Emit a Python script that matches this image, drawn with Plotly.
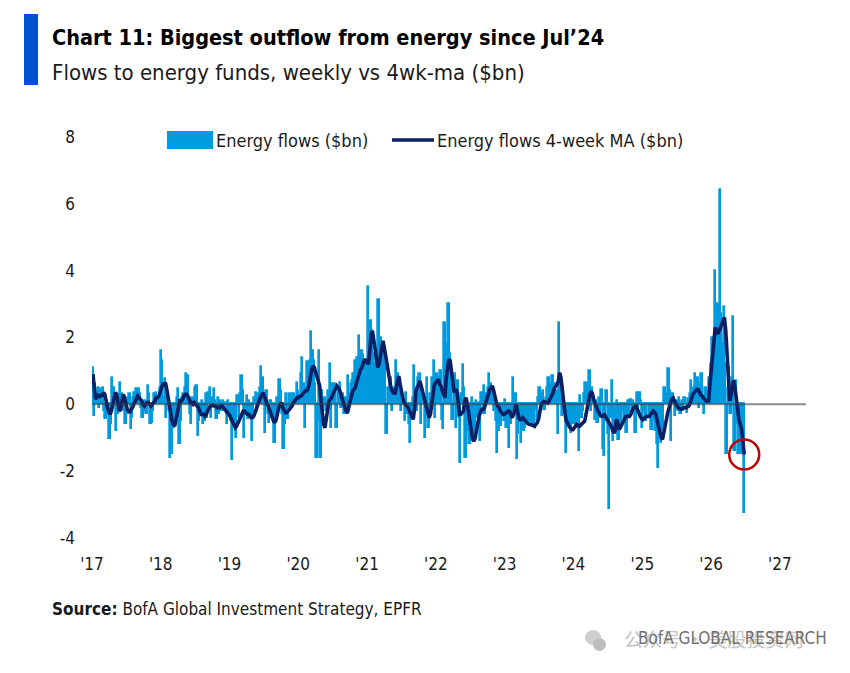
import pandas as pd
import plotly.graph_objects as go

# weekly flows to energy funds ($bn), first week Jan-2017
flows = [
    1.1, -0.35, 0.6, 0.3, 0.5, -0.1, 0.45, 0.2, 0.5, -0.2,
    -0.45, 0.1, -0.3, -1.05, -0.6, 0.8, 0.5, 0.1, -0.8, -0.3,
    0.2, 0.65, 0.3, 0.1, -0.2, -0.6, -0.3, 0.2, 0.3, -0.75,
    -0.4, 0.2, 0.35, 0.45, 0.2, 0.45, 0.3, -0.1, -0.4, -0.2,
    0.1, -0.3, 0.55, 0.3, -0.6, -0.55, -0.2, 0.3, 0.35, 0.2,
    0.1, 0.5, 1.6, 1.3, 0.2, 0.75, -0.4, 0.3, -0.2, -1.6,
    -1.5, -0.7, -0.7, -0.4, 0.2, 0.45, -1.2, -0.5, 0.2, 0.3,
    0.5, 0.9, 0.85, 0.2, -0.3, -0.6, 0.2, 0.1, 0.5, 0.55,
    -0.95, -0.5, -0.3, 0.1, -0.6, -0.5, 0.3, -0.4, 0.34, 0.5,
    -0.4, 0.2, 0.45, 0.1, -0.45, 0.2, -0.3, 0.1, -0.2, 0.1,
    -0.2, 0.05, -0.6, 0.1, -0.3, -0.5, -1.68, -0.6, -0.3, -1.0,
    0.24, -0.4, 0.3, 0.86, 0.4, -1.0, -0.3, 0.26, -0.45, 0.1,
    -0.3, -1.1, -0.4, 0.2, 0.34, -0.2, 0.3, 0.5, 1.12, 0.8,
    0.3, -0.85, 0.41, -0.3, -0.55, 0.1, -0.4, -0.2, -1.15, -0.5,
    0.2, -0.1, 0.72, 0.4, -0.3, -1.35, -0.6, 0.3, -0.45, 0.3,
    -0.2, 0.3, 0.1, 0.3, 0.2, 0.64, 0.4, 0.2, 0.9, 1.4,
    0.6, -0.7, 0.5, 1.26, 0.8, 1.3, 2.16, 1.6, 1.3, 0.6,
    -1.6, -0.5, 1.6, -1.6, 0.4, -0.3, 0.19, -0.2, 0.1, 0.4,
    1.22, -0.7, 0.6, 0.3, 0.6, -0.7, 0.4, 0.5, 0.64, -0.1,
    0.3, -0.3, 0.2, -0.3, 0.86, 0.3, 0.6, 0.7, 0.9, 1.29,
    0.8, 1.4, 2.04, 1.1, 1.6, 1.49, 0.9, 1.3, 1.0, 3.5,
    2.0, 2.5, 2.19, 1.5, 1.2, 1.6, 1.0, 3.13, 1.9, 2.0,
    1.6, 1.0, 1.6, -0.9, 0.5, 0.3, 0.8, -0.2, 0.5, 0.2,
    1.29, 0.6, 0.9, 0.6, -0.2, 0.3, 0.1, -0.5, 0.34, -0.3,
    -0.6, -1.16, -0.4, 0.2, 1.14, 0.5, -0.2, 0.8, 0.9, -0.6,
    0.4, 0.2, -1.0, -0.2, 0.8, -0.7, 0.3, -0.3, 0.8, 1.29,
    -0.4, 0.9, 0.8, 0.4, 1.0, -0.46, -0.75, 2.44, 1.2, 1.8,
    3.0, 1.5, 1.29, -0.46, 0.6, 0.9, -0.7, 0.7, -0.4, -1.75,
    0.3, 1.19, 0.5, -1.6, -0.8, -0.3, -1.2, -0.6, 0.2, -0.9,
    -0.7, 0.1, -0.4, 0.05, -1.1, 0.34, -0.3, 0.54, -0.3, 0.3,
    0.5, 0.9, 0.6, 0.3, 0.4, -0.2, -0.5, -1.46, -0.8, -0.3,
    -0.66, -0.2, -0.5, 0.14, -0.7, -0.3, -1.3, -0.6, -0.2, 0.8,
    -0.2, 0.3, -1.65, -0.9, -0.5, -1.16, -0.2, -0.8, -0.7, -0.3,
    -0.6, -0.25, -0.5, -0.66, -0.3, -0.6, -0.16, -0.5, 0.2, 0.5,
    0.1, 0.3, 0.4, -0.16, 0.2, 0.5, 0.8, 0.3, 0.6, 0.84,
    0.3, 0.6, 0.4, -0.9, 2.44, 0.5, -0.36, 0.2, -0.3, -1.46,
    -0.2, -0.6, -0.2, -0.86, -0.3, -0.6, -0.2, -0.7, -0.5, -1.4,
    0.24, -0.4, -0.2, 0.3, 0.64, 0.2, 0.6, 1.0, -0.2, 0.5,
    0.2, -0.46, 0.1, -0.56, 0.2, -0.3, 0.44, -1.35, -1.56, -0.5,
    0.4, -0.9, -3.12, -0.4, 0.7, -1.1, -0.6, -0.9, 0.1, -1.06,
    -0.3, -0.66, -0.2, -0.5, -0.3, -0.86, 0.1, -0.4, 0.14, -0.3,
    0.1, -0.2, -0.86, 0.34, -0.2, 0.34, 0.1, -0.7, -0.2, -0.5,
    -0.5, 0.0, -0.3, -0.1, -0.76, -0.2, -0.5, -0.8, -1.2, -1.9,
    -0.9, -1.15, -0.5, -0.8, 0.5, 0.2, 0.3, 1.07, 0.4, -1.09,
    0.3, 0.2, -0.36, 0.1, -0.2, 0.2, -0.3, 0.1, -0.2, 0.2,
    0.0, -0.25, 0.15, 0.3, 0.7, 0.2, 0.5, 0.9, 0.3, 0.8,
    -0.1, 0.6, 0.9, 0.2, -0.3, 0.5, 0.1, 0.4, 0.8, 1.2,
    2.0, 1.6, 4.0, 2.4, 3.0, 2.2, 6.4, 2.7, 1.8, 2.9,
    1.2, -1.5, 0.5, 1.1, -0.3, 0.8, 2.6, -1.4, 0.7, -0.6,
    -1.5, -0.9, -1.5, -1.2, -3.25,
]

# 4-week moving average ($bn)
flows_ma4 = [
    0.9, 0.5, 0.15, 0.25, 0.3, 0.2, 0.3, 0.25, 0.35, 0.3,
    0.0, -0.1, -0.2, -0.3, -0.2, 0.0, 0.2, 0.35, 0.3, 0.05,
    -0.2, -0.15, 0.1, 0.3, 0.2, -0.05, -0.15, -0.2, -0.25, -0.15,
    -0.1, 0.0, 0.1, 0.2, 0.25, 0.2, 0.15, 0.1, 0.0, -0.05,
    0.0, 0.05, 0.05, 0.0, -0.05, 0.0, 0.05, 0.1, 0.2, 0.2,
    0.25, 0.35, 0.5, 0.6, 0.6, 0.65, 0.45, 0.2, -0.1, -0.35,
    -0.5, -0.6, -0.65, -0.45, -0.2, 0.0, 0.15, 0.1, 0.15, 0.25,
    0.3, 0.3, 0.25, 0.15, 0.05, 0.05, 0.0, 0.05, 0.0, -0.05,
    -0.1, -0.2, -0.3, -0.3, -0.3, -0.35, -0.3, -0.2, -0.1, -0.05,
    -0.05, -0.03, -0.05, -0.05, -0.1, -0.1, -0.1, -0.05, -0.05, -0.1,
    -0.15, -0.2, -0.25, -0.3, -0.35, -0.45, -0.55, -0.65, -0.7, -0.65,
    -0.55, -0.45, -0.35, -0.25, -0.2, -0.2, -0.25, -0.3, -0.3, -0.35,
    -0.4, -0.4, -0.35, -0.25, -0.1, -0.05, 0.1, 0.2, 0.3, 0.35,
    0.25, 0.1, 0.0, -0.05, -0.2, -0.3, -0.4, -0.5, -0.55, -0.45,
    -0.25, -0.1, 0.0, 0.05, -0.1, -0.2, -0.25, -0.25, -0.2, -0.15,
    -0.1, -0.05, 0.05, 0.1, 0.15, 0.2, 0.2, 0.25, 0.25, 0.3,
    0.35, 0.4, 0.4, 0.45, 0.6, 0.85, 1.05, 1.15, 1.1, 0.95,
    0.8, 0.7, 0.55, 0.1, -0.3, -0.6, -0.7, -0.4, 0.0, 0.1,
    0.15, 0.2, 0.3, 0.4, 0.5, 0.55, 0.5, 0.45, 0.3, 0.15,
    0.05, -0.1, -0.2, -0.26, -0.1, 0.1, 0.3, 0.4, 0.45, 0.5,
    0.65, 0.8, 0.95, 1.05, 1.1, 1.25, 1.35, 1.3, 1.25, 1.2,
    1.6, 2.1, 2.2, 1.95, 1.7, 1.35, 1.1, 1.2, 1.4, 1.65,
    1.9, 1.7, 1.45, 1.3, 0.9, 0.65, 0.5, 0.4, 0.35, 0.3,
    0.5, 0.75, 0.85, 0.6, 0.35, 0.2, 0.05, 0.0, -0.05, -0.1,
    -0.2, -0.3, -0.4, -0.45, -0.1, 0.4, 0.5, 0.65, 0.7, 0.55,
    0.4, 0.25, 0.1, -0.1, -0.25, -0.4, -0.3, 0.0, 0.3, 0.6,
    0.65, 0.7, 0.75, 0.6, 0.55, 0.4, 0.3, 0.2, 0.8, 1.2,
    1.35, 1.3, 1.0, 0.7, 0.35, 0.45, 0.4, 0.1, -0.3, -0.3,
    -0.25, -0.2, 0.1, 0.2, 0.0, -0.3, -0.6, -0.95, -1.05, -1.1,
    -1.0, -0.75, -0.5, -0.35, -0.2, -0.15, -0.15, -0.1, 0.05, 0.2,
    0.35, 0.45, 0.5, 0.55, 0.4, 0.2, 0.05, -0.05, -0.1, -0.2,
    -0.25, -0.3, -0.3, -0.26, -0.25, -0.2, -0.21, -0.3, -0.4, -0.3,
    -0.15, 0.0, -0.2, -0.4, -0.46, -0.45, -0.4, -0.45, -0.5, -0.56,
    -0.58, -0.6, -0.6, -0.62, -0.64, -0.66, -0.6, -0.55, -0.45, -0.2,
    0.0, 0.05, 0.09, 0.07, 0.04, 0.04, 0.1, 0.18, 0.25, 0.35,
    0.49, 0.55, 0.59, 0.7, 0.95, 0.8, 0.4, 0.0, -0.25, -0.5,
    -0.55, -0.65, -0.72, -0.75, -0.76, -0.7, -0.62, -0.6, -0.63, -0.66,
    -0.62, -0.58, -0.55, -0.5, -0.3, -0.05, 0.15, 0.3, 0.39, 0.3,
    0.12, 0.0, -0.1, -0.2, -0.25, -0.35, -0.36, -0.33, -0.31, -0.38,
    -0.45, -0.5, -0.55, -0.65, -0.75, -0.85, -0.8, -0.45, -0.55, -0.75,
    -0.7, -0.62, -0.55, -0.45, -0.37, -0.36, -0.36, -0.36, -0.3, -0.15,
    -0.1, -0.08, -0.06, -0.15, -0.3, -0.35, -0.42, -0.46, -0.42, -0.38,
    -0.36, -0.36, -0.36, -0.3, -0.22, -0.2, -0.24, -0.3, -0.5, -0.7,
    -0.85, -1.0, -1.05, -0.85, -0.55, -0.45, -0.25, -0.1, 0.05, 0.15,
    0.19, 0.1, 0.04, -0.05, -0.1, -0.14, -0.15, -0.12, -0.1, -0.1,
    -0.1, -0.08, -0.05, 0.05, 0.2, 0.3, 0.35, 0.4, 0.44, 0.44,
    0.35, 0.29, 0.25, 0.18, 0.14, 0.1, 0.09, 0.1, 0.6, 1.1,
    1.6, 2.0, 2.3, 2.2, 2.1, 2.2, 2.3, 2.4, 2.55, 2.6,
    2.2, 1.4, 0.7, 0.1, 0.3, 0.6, 0.72, 0.5, 0.1, -0.2,
    -0.46, -0.6, -0.75, -1.1, -1.5,
]

first_week = "2017-01-06"
year_ticks = [f"{y}-01-01" for y in range(2017, 2028)]
year_labels = ["'17", "'18", "'19", "'20", "'21", "'22", "'23", "'24", "'25", "'26", "'27"]
y_ticks = [-4, -2, 0, 2, 4, 6, 8]
y_labels = ["-4", "-2", "0", "2", "4", "6", "8"]

BAR_BLUE = "#009ADE"
NAVY = "#0B1F65"
FONT = "DejaVu Sans Condensed, DejaVu Sans, sans-serif"

# the page body has an 8px margin, so the figure is 8px smaller than the window
# and all positions below are given in window pixels, shifted by OFF
OFF = 8
W, H = 850 - OFF, 673 - OFF
L, R, T, B = 92 - OFF, 44, 137 - OFF, 135


def px(x):
    return (x - OFF - L) / (W - L - R)


def py(y):
    return 1 - (y - OFF - T) / (H - T - B)


weeks = pd.date_range(first_week, periods=len(flows), freq="W-FRI")
ma_weeks = pd.date_range(first_week, periods=len(flows_ma4), freq="W-FRI")

fig = go.Figure()
fig.add_trace(go.Bar(x=weeks, y=flows,
                     marker=dict(color=BAR_BLUE, line=dict(color=BAR_BLUE, width=1.7)),
                     showlegend=False))
fig.add_trace(go.Scatter(x=ma_weeks, y=flows_ma4, mode="lines",
                         line=dict(color=NAVY, width=3.6), showlegend=False))

shapes = [
    # zero line, drawn over the bars
    dict(type="line", xref="paper", yref="y", x0=0, x1=1, y0=0, y1=0,
         line=dict(color="rgba(60,60,60,0.6)", width=2), layer="above"),
    # red ring round the latest 4wk-ma reading
    dict(type="circle", xref="x", yref="y", xsizemode="pixel", ysizemode="pixel",
         xanchor=ma_weeks[-1], yanchor=flows_ma4[-1], x0=-15, x1=15, y0=-15, y1=15,
         line=dict(color="#C00000", width=2.5)),
    # blue accent bar by the title
    dict(type="rect", xref="paper", yref="paper", x0=px(24), x1=px(38), y0=py(85), y1=py(14),
         fillcolor="#0052CC", line=dict(width=0)),
    # legend swatches
    dict(type="rect", xref="paper", yref="paper", x0=px(167), x1=px(213), y0=py(149), y1=py(131),
         fillcolor=BAR_BLUE, line=dict(width=0)),
    dict(type="line", xref="paper", yref="paper", x0=px(392), x1=px(434), y0=py(140), y1=py(140),
         line=dict(color=NAVY, width=3.5)),
    # wechat-ish watermark icon
    dict(type="circle", xref="paper", yref="paper", x0=px(585), x1=px(601), y0=py(645), y1=py(630),
         fillcolor="#cfcfcf", line=dict(width=0)),
    dict(type="circle", xref="paper", yref="paper", x0=px(593), x1=px(606), y0=py(651), y1=py(638),
         fillcolor="#bdbdbd", line=dict(width=0)),
]


def note(x, y, text, size, color="#1a1a1a", family=FONT):
    return dict(xref="paper", yref="paper", x=px(x), y=py(y), text=text, showarrow=False,
                xanchor="left", yanchor="middle", font=dict(family=family, size=size, color=color))


annotations = [
    note(50, 38, "<b>Chart 11: Biggest outflow from energy since Jul’24</b>", 21.5, "#000000"),
    note(50, 72, "Flows to energy funds, weekly vs 4wk-ma ($bn)", 22, "#1a1a1a"),
    note(214, 140, "Energy flows ($bn)", 18),
    note(435, 140, "Energy flows 4-week MA ($bn)", 18),
    note(50, 609, "<b>Source:</b> BofA Global Investment Strategy, EPFR", 17),
    note(622, 638, "公众号 · 美股投资网", 19, "#c4c4c4", "Noto Sans CJK SC"),
    note(636, 638, "BofA GLOBAL RESEARCH", 17, "#707070"),
]

fig.update_layout(
    width=W, height=H,
    margin=dict(l=L, r=R, t=T, b=B, pad=0),
    paper_bgcolor="white", plot_bgcolor="white",
    bargap=0,
    font=dict(family=FONT, size=17, color="#1a1a1a"),
    shapes=shapes,
    annotations=annotations,
    showlegend=False,
)
fig.update_xaxes(
    type="date", range=["2017-01-01", "2027-05-20"],
    tickvals=year_ticks, ticktext=year_labels, ticks="",
    showgrid=False, zeroline=False, showline=False,
    tickfont=dict(size=17), ticklabelstandoff=14,
)
fig.update_yaxes(
    range=[-4, 8], tickvals=y_ticks, ticktext=y_labels, ticks="",
    showgrid=False, zeroline=False, showline=False,
    tickfont=dict(size=17), ticklabelstandoff=16,
)

fig.write_html("out.html")
